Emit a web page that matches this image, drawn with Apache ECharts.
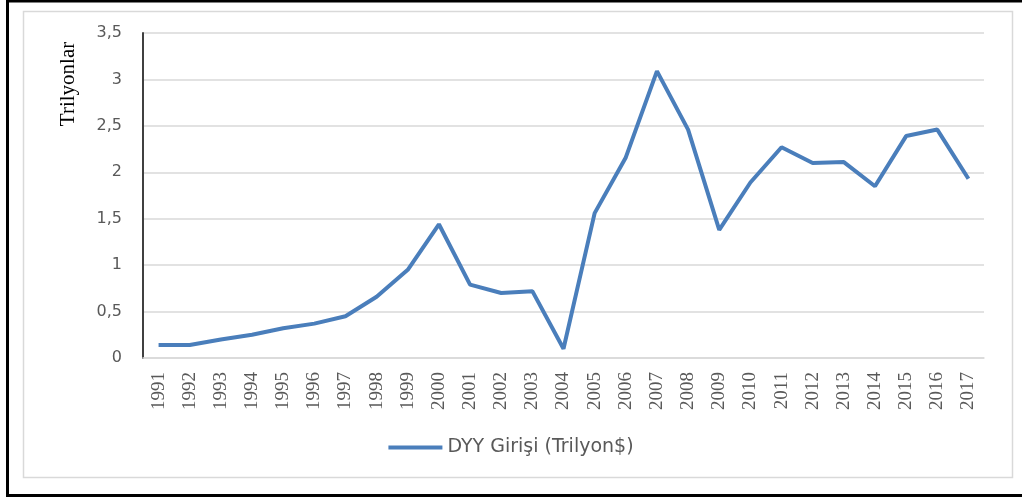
<!DOCTYPE html>
<html>
<head>
<meta charset="utf-8">
<script src="https://cdn.jsdelivr.net/npm/echarts@6/dist/echarts.min.js"></script>
<style>
html,body{margin:0;padding:0;background:#fff;}
#chart{width:1022px;height:497px;}
</style>
</head>
<body>
<div id="chart"></div>
<script>
const years = ['1991','1992','1993','1994','1995','1996','1997','1998','1999','2000','2001','2002','2003','2004','2005','2006','2007','2008','2009','2010','2011','2012','2013','2014','2015','2016','2017'];
const dyy = [0.14,0.14,0.20,0.25,0.32,0.37,0.45,0.66,0.95,1.44,0.79,0.70,0.72,0.10,1.56,2.16,3.09,2.46,1.38,1.89,2.27,2.10,2.11,1.85,2.39,2.46,1.93];
const seriesName = 'DYY Girişi (Trilyon$)';
const yTitle = 'Trilyonlar';

const chart = echarts.init(document.getElementById('chart'), null, {renderer:'canvas'});
chart.setOption({
  animation:false,
  backgroundColor:'#fff',
  grid:{left:143,right:38,top:33,bottom:139,containLabel:false},
  legend:{
    data:[seriesName],
    left:'center',
    top:433,
    icon:'rect',
    itemWidth:54,
    itemHeight:4,
    itemGap:10,
    textStyle:{fontFamily:'DejaVu Sans',fontSize:19,color:'#595959'}
  },
  xAxis:{
    type:'category',
    data:years,
    boundaryGap:true,
    axisLine:{show:true,lineStyle:{color:'#d9d9d9',width:1.5}},
    axisTick:{show:false},
    axisLabel:{rotate:90,margin:14,fontFamily:'Liberation Serif',fontSize:19,color:'#595959',interval:0}
  },
  yAxis:{
    type:'value',
    min:0,max:3.5,interval:0.5,
    axisLine:{show:true,lineStyle:{color:'#404040',width:2}},
    axisTick:{show:false},
    splitLine:{lineStyle:{color:'#d9d9d9',width:1.5}},
    axisLabel:{margin:21,fontFamily:'DejaVu Sans',fontSize:16,color:'#595959',
      formatter:v=>String(v).replace('.',',')}
  },
  series:[{
    name:seriesName,
    type:'line',
    data:dyy,
    symbol:'none',
    lineStyle:{color:'#4a7ebb',width:4},
    itemStyle:{color:'#4a7ebb'}
  }],
  graphic:[
    {type:'rect',shape:{x:7.5,y:1,width:1030,height:494.5},style:{fill:'none',stroke:'#000',lineWidth:3},silent:true},
    {type:'rect',shape:{x:23.5,y:11.5,width:989,height:466},style:{fill:'none',stroke:'#d9d9d9',lineWidth:1.5},silent:true},
    {type:'text',x:68,y:84,rotation:Math.PI/2,
      style:{text:yTitle,fontFamily:'Liberation Serif',fontSize:21,fill:'#000',align:'center',verticalAlign:'middle'}}
  ]
});
</script>
</body>
</html>
